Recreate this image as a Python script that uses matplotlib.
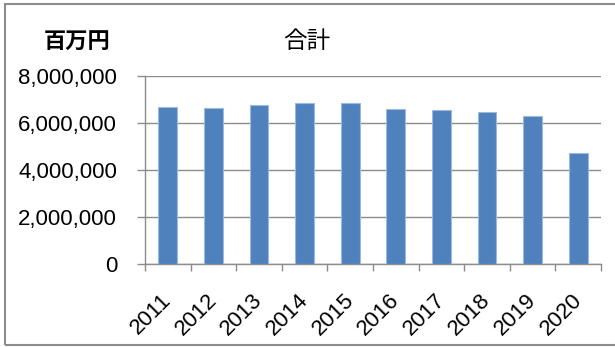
import matplotlib
matplotlib.use("Agg")
import matplotlib.pyplot as plt
import matplotlib.transforms as mtransforms
from matplotlib.patches import Rectangle

# --- Data (百万円) ---
years = ["2011", "2012", "2013", "2014", "2015",
         "2016", "2017", "2018", "2019", "2020"]
totals = [6700000, 6645000, 6760000, 6840000, 6840000,
          6590000, 6550000, 6460000, 6310000, 4730000]
yticks = [0, 2000000, 4000000, 6000000, 8000000]

# --- Styling ---
BAR = "#4F81BD"
BAR_EDGE = "#9DB9DC"
GRID = "#8C8C8C"
LABEL_FONT = ["Liberation Sans", "DejaVu Sans"]
CJK_FONT = ["Noto Sans CJK JP", "DejaVu Sans"]

fig = plt.figure(figsize=(6.15, 3.47), dpi=100)
ax = fig.add_axes([0.2358, 0.2378, 0.7414, 0.5432])

x = range(len(years))
ax.bar(x, totals, width=0.41, color=BAR, edgecolor=BAR_EDGE, linewidth=0.8, zorder=3)

ax.set_xlim(-0.5, len(years) - 0.5)
ax.set_ylim(0, 8000000)

# y axis: gridlines + comma-formatted labels
ax.set_yticks(yticks)
ax.set_yticklabels([f"{v:,}" for v in yticks], family=LABEL_FONT, fontsize=16)
ax.yaxis.grid(True, color=GRID, linewidth=1.0, zorder=0)
ax.tick_params(axis="y", length=6, width=1.0, color=GRID, pad=14)

# x axis: labels at centres, tick marks at category boundaries
ax.set_xticks(list(x))
ax.set_xticklabels(years, family=LABEL_FONT, fontsize=16,
                   rotation=45, ha="right", rotation_mode="anchor")
ax.tick_params(axis="x", which="major", length=0, pad=18)
shift = mtransforms.ScaledTranslation(-5 / 72, 0, fig.dpi_scale_trans)
for lbl in ax.get_xticklabels():
    lbl.set_transform(lbl.get_transform() + shift)
ax.set_xticks([i - 0.5 for i in range(len(years) + 1)], minor=True)
ax.tick_params(axis="x", which="minor", length=5, width=1.0, color=GRID)

for side in ("top", "right"):
    ax.spines[side].set_visible(False)
for side in ("left", "bottom"):
    ax.spines[side].set_color(GRID)
    ax.spines[side].set_linewidth(1.0)

# Unit and title
fig.text(77 / 615, 1 - 42 / 347, "百万円", family=CJK_FONT, fontsize=16,
         fontweight="bold", ha="center", va="center")
fig.text(307 / 615, 1 - 42 / 347, "合計", family=CJK_FONT, fontsize=17,
         ha="center", va="center")

# Outer chart frame
fig.patches.append(Rectangle((5 / 615, 2 / 347), 640 / 615, 341 / 347,
                             transform=fig.transFigure, fill=False,
                             edgecolor="#8C8C8C", linewidth=1.5))

fig.savefig("out.png", dpi=100)
